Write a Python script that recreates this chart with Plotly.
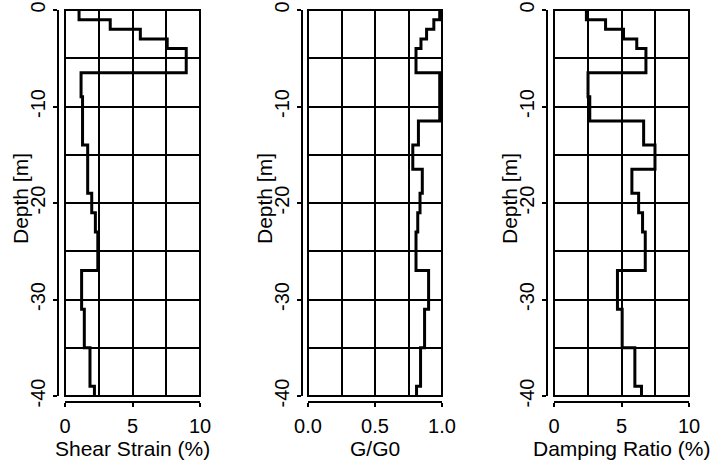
import plotly.graph_objects as go

# Layer boundaries (depth, m)
depth_bounds = [0, -1, -2, -3, -4, -6.5, -9, -11.5, -14, -16.5, -19, -21, -23, -27, -31, -35, -39, -40]

shear_strain = [1.04, 3.35, 5.58, 7.57, 8.98, 1.19, 1.30, 1.30, 1.68, 1.68, 1.98, 2.25, 2.43, 1.23, 1.43, 1.85, 2.18]
g_over_g0 = [0.983, 0.939, 0.885, 0.843, 0.806, 0.983, 0.983, 0.824, 0.782, 0.853, 0.836, 0.819, 0.806, 0.900, 0.870, 0.840, 0.810]
damping = [2.40, 3.82, 5.15, 6.13, 6.81, 2.52, 2.65, 6.64, 7.48, 5.77, 6.27, 6.56, 6.76, 4.70, 5.05, 5.99, 6.48]

x_titles = ["Shear Strain (%)", "G/G0", "Damping Ratio (%)"]
x_ranges = [[0, 10], [0, 1], [0, 10]]
x_major = [5, 0.5, 5]
x_minor = [2.5, 0.25, 2.5]
x_formats = ["d", ".1f", "d"]
y_title = "Depth [m]"
y_tickvals = [0, -10, -20, -30, -40]
y_ticktext = ["0", "-10", "-20", "-30", "-40"]

W, H = 715, 463
panel_px = [(65, 200), (308, 442), (554, 689)]
yaxis_line_px = [58, 302, 547]
top_px, bot_px = 10, 396
xaxis_line_px = 402
ytitle_offset_px = 38
xtitle_center_px = 448
ytitle_center_px = 199

FAMILY = "Liberation Sans, Arial, sans-serif"
TITLE_FONT = dict(family=FAMILY, size=21, color="black")
TICK_FONT = dict(family=FAMILY, size=20, color="black")


def steps(vals):
    xs, ys = [], []
    for i, v in enumerate(vals):
        xs += [v, v]
        ys += [depth_bounds[i], depth_bounds[i + 1]]
    return xs, ys


fig = go.Figure()
series = [shear_strain, g_over_g0, damping]
layout = {}
shapes = []
annotations = []
for i, vals in enumerate(series):
    n = "" if i == 0 else str(i + 1)
    xs, ys = steps(vals)
    fig.add_trace(go.Scatter(x=xs, y=ys, mode="lines", xaxis="x" + n, yaxis="y" + n,
                             line=dict(color="black", width=3), showlegend=False,
                             hoverinfo="skip"))
    x0, x1 = panel_px[i]
    layout["xaxis" + n] = dict(
        domain=[x0 / W, x1 / W], range=x_ranges[i], anchor="free",
        position=1 - xaxis_line_px / H, automargin=False,
        dtick=x_major[i], tick0=0, tickformat=x_formats[i],
        showline=True, linecolor="black", linewidth=1.6,
        ticks="outside", ticklen=4, tickwidth=1.5, tickcolor="black",
        ticklabelstandoff=2,
        showgrid=True, gridcolor="black", gridwidth=1.7, zeroline=False,
        minor=dict(dtick=x_minor[i], tick0=0, showgrid=True, gridcolor="black", gridwidth=1.7, ticks=""),
        tickfont=TICK_FONT, fixedrange=True,
    )
    layout["yaxis" + n] = dict(
        domain=[1 - bot_px / H, 1 - top_px / H], range=[-40, 0], anchor="free",
        position=yaxis_line_px[i] / W, automargin=False,
        tickvals=y_tickvals, ticktext=y_ticktext, tickangle=-90,
        showline=True, linecolor="black", linewidth=1.6,
        ticks="outside", ticklen=4, tickwidth=1.5, tickcolor="black",
        showgrid=True, gridcolor="black", gridwidth=1.7, zeroline=False,
        minor=dict(dtick=5, tick0=0, showgrid=True, gridcolor="black", gridwidth=1.7, ticks=""),
        tickfont=TICK_FONT, fixedrange=True,
    )
    shapes.append(dict(type="rect", xref="x" + n + " domain", yref="y" + n + " domain",
                       x0=0, x1=1, y0=0, y1=1, line=dict(color="black", width=2)))
    annotations.append(dict(text=x_titles[i], xref="paper", yref="paper",
                            x=(x0 + x1) / 2 / W, y=1 - xtitle_center_px / H,
                            xanchor="center", yanchor="middle", showarrow=False, font=TITLE_FONT))
    annotations.append(dict(text=y_title, xref="paper", yref="paper", textangle=-90,
                            x=(yaxis_line_px[i] - ytitle_offset_px) / W, y=1 - ytitle_center_px / H,
                            xanchor="center", yanchor="middle", showarrow=False, font=TITLE_FONT))

fig.update_layout(
    width=W, height=H, margin=dict(l=0, r=0, t=0, b=0),
    paper_bgcolor="white", plot_bgcolor="white", font=TICK_FONT,
    shapes=shapes, annotations=annotations, showlegend=False, **layout,
)
fig.write_html(
    "out.html",
    config={"displayModeBar": False},
    post_script="document.body.style.margin='0';document.body.style.padding='0';document.body.style.overflow='hidden';",
)
